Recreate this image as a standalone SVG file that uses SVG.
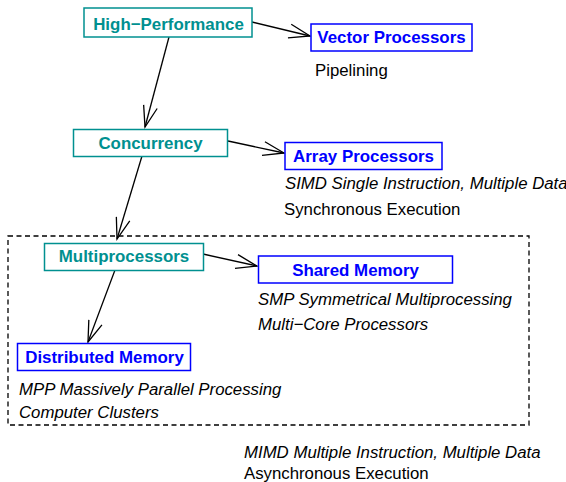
<svg xmlns="http://www.w3.org/2000/svg" width="566" height="482" viewBox="0 0 566 482">
<defs>
<style>
.bg{fill:#ffffff}
.teal rect{fill:#ffffff;stroke:#009090;stroke-width:1.5}
.teal text{fill:#009090}
.blue rect{fill:#ffffff;stroke:#0000ff;stroke-width:1.5}
.blue text{fill:#0000ff}
.node text{font-family:"Liberation Sans",Arial,sans-serif;font-size:16.9px;font-weight:bold;text-anchor:middle}
.lbl{font-family:"Liberation Sans",Arial,sans-serif;font-size:16.8px;fill:#000000}
.it{font-style:italic}
.conn line{stroke:#000000;stroke-width:1.3;fill:none}
.frame{fill:none;stroke:#000000;stroke-width:1.3;stroke-dasharray:5 3.5}
</style>
<marker id="arr" viewBox="-22 -8 24 16" refX="0" refY="0" markerWidth="24" markerHeight="16" markerUnits="userSpaceOnUse" orient="auto">
<path d="M-21,-7 L0,0 L-21,7" fill="none" stroke="#000000" stroke-width="1.3"/>
</marker>
</defs>
<rect class="bg" x="0" y="0" width="566" height="482"/>
<rect class="frame" x="8" y="236" width="521" height="189"/>
<g id="connectors" class="conn">
<line x1="252" y1="22" x2="310" y2="36" marker-end="url(#arr)"/>
<line x1="169" y1="37" x2="145" y2="127" marker-end="url(#arr)"/>
<line x1="228" y1="141" x2="284" y2="153" marker-end="url(#arr)"/>
<line x1="142" y1="156" x2="117" y2="239" marker-end="url(#arr)"/>
<line x1="203" y1="254" x2="257" y2="266" marker-end="url(#arr)"/>
<line x1="115" y1="270" x2="88" y2="342" marker-end="url(#arr)"/>
</g>
<g id="high-performance" class="node teal">
<rect x="84" y="8" width="168" height="29"/>
<text x="168.5" y="30">High−Performance</text>
</g>
<g id="vector-processors" class="node blue">
<rect x="311" y="24" width="161" height="27"/>
<text x="391.5" y="43">Vector Processors</text>
</g>
<g id="concurrency" class="node teal">
<rect x="73.5" y="129.5" width="154" height="27"/>
<text x="150.5" y="149">Concurrency</text>
</g>
<g id="array-processors" class="node blue">
<rect x="285" y="142.5" width="157" height="27"/>
<text x="363.5" y="162">Array Processors</text>
</g>
<g id="multiprocessors" class="node teal">
<rect x="44.5" y="243.5" width="159" height="27"/>
<text x="124" y="262">Multiprocessors</text>
</g>
<g id="shared-memory" class="node blue">
<rect x="258.5" y="256" width="194" height="27"/>
<text x="355.5" y="276">Shared Memory</text>
</g>
<g id="distributed-memory" class="node blue">
<rect x="17.5" y="343.5" width="173" height="27"/>
<text x="104.5" y="363">Distributed Memory</text>
</g>
<g id="labels">
<text class="lbl" x="315" y="76">Pipelining</text>
<text class="lbl it" x="285" y="189">SIMD Single Instruction, Multiple Data</text>
<text class="lbl" x="284" y="215">Synchronous Execution</text>
<text class="lbl it" x="258" y="305">SMP Symmetrical Multiprocessing</text>
<text class="lbl it" x="258" y="330">Multi−Core Processors</text>
<text class="lbl it" x="19" y="395">MPP Massively Parallel Processing</text>
<text class="lbl it" x="19" y="418">Computer Clusters</text>
<text class="lbl it" x="244" y="458">MIMD Multiple Instruction, Multiple Data</text>
<text class="lbl" x="244" y="479">Asynchronous Execution</text>
</g>
</svg>
